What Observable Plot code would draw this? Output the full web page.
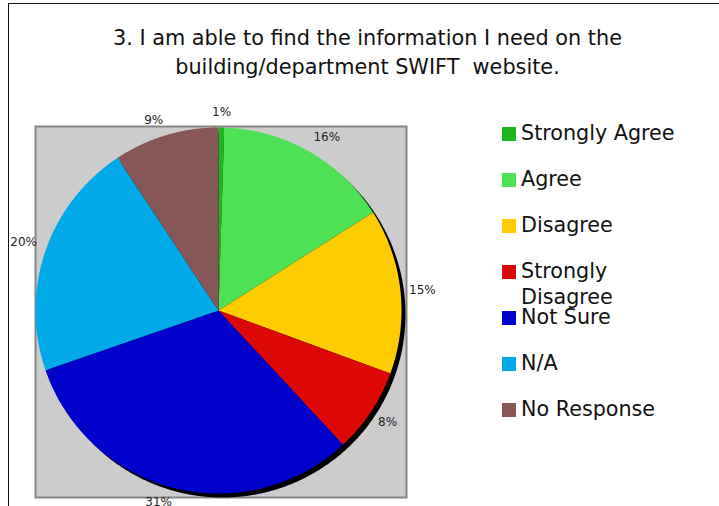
<!DOCTYPE html>
<html>
<head>
<meta charset="utf-8">
<script src="https://cdn.jsdelivr.net/npm/d3@7"></script>
<script src="https://cdn.jsdelivr.net/npm/@observablehq/plot@0.6"></script>
<style>
  html, body { margin: 0; padding: 0; background: #fff; }
  #wrap { position: relative; width: 719px; height: 506px; overflow: hidden; font-family: "DejaVu Sans", Verdana, sans-serif; }
  #chart { position: absolute; left: 0; top: 0; }
  #outer { position: absolute; left: 8px; top: 3px; width: 900px; height: 900px; border: 1.5px solid #111; box-sizing: border-box; }
  #title { position: absolute; left: 0; top: 23.5px; width: 735px; text-align: center; font-size: 20.8px; line-height: 29px; color: #111; white-space: pre; }
  .lg-sw { position: absolute; left: 502px; width: 14px; height: 14px; }
  .lg-tx { position: absolute; left: 521px; width: 165px; font-size: 20.7px; line-height: 26px; color: #111; }
</style>
</head>
<body>
<div id="wrap">
  <div id="outer"></div>
  <div id="chart"></div>
  <div id="title"></div>
  <div id="legend"></div>
</div>
<script>
// ---- data ----
const titleText = "3. I am able to find the information I need on the\nbuilding/department SWIFT  website.";
const categories = ["Strongly Agree", "Agree", "Disagree", "Strongly Disagree", "Not Sure", "N/A", "No Response"];
const shares = [0.5, 15.5, 14.6, 7.5, 31.6, 21.0, 9.3];
const percentLabels = ["1%", "16%", "15%", "8%", "31%", "20%", "9%"];
const colors = ["#1db51d", "#4ee155", "#ffcc00", "#dd0806", "#0000cc", "#00aae8", "#875656"];

// ---- geometry (unit circle, y down, angle clockwise from 12 o'clock) ----
const arcs = d3.pie().sort(null).value(d => d)(shares);
const step = Math.PI / 360;
function ring(a0, a1, withCenter) {
  const pts = withCenter ? [[0, 0]] : [];
  const n = Math.max(2, Math.ceil((a1 - a0) / step));
  for (let i = 0; i <= n; i++) {
    const a = a0 + (a1 - a0) * i / n;
    pts.push([Math.sin(a), -Math.cos(a)]);
  }
  pts.push(pts[0]);
  return pts;
}
const slices = arcs.map((a, i) => ({
  type: "Feature",
  properties: {category: categories[i]},
  geometry: {type: "Polygon", coordinates: [ring(a.startAngle, a.endAngle, true)]}
}));
const disc = {type: "Feature", properties: {}, geometry: {type: "Polygon", coordinates: [ring(0, 2 * Math.PI, false)]}};

const labelR = 1.0475;
const labels = arcs.map((a, i) => {
  const m = (a.startAngle + a.endAngle) / 2;
  const s = Math.sin(m), c = Math.cos(m);
  return {
    x: labelR * s, y: -labelR * c, text: percentLabels[i],
    ta: s > 0.2 ? "start" : s < -0.2 ? "end" : "middle",
    la: c > 0.3 ? "bottom" : c < -0.3 ? "top" : "middle"
  };
});

const lineShift = {top: 1, middle: 0, bottom: -3};
const labelMarks = [];
for (const ta of ["start", "middle", "end"]) {
  for (const la of ["top", "middle", "bottom"]) {
    labelMarks.push(Plot.text(labels, {
      filter: d => d.ta === ta && d.la === la,
      x: "x", y: "y", text: "text",
      textAnchor: ta, lineAnchor: la, dy: lineShift[la],
      fontSize: 12, fill: "#222"
    }));
  }
}

const chart = Plot.plot({
  width: 719,
  height: 506,
  marginLeft: 35,
  marginTop: 126,
  marginRight: 313,
  marginBottom: 9,
  projection: {
    type: "identity",
    domain: disc,
    clip: false,
    insetLeft: 0, insetTop: 1, insetRight: 5, insetBottom: 4
  },
  color: {domain: categories, range: colors},
  style: {background: "transparent", fontFamily: "DejaVu Sans, Verdana, sans-serif", overflow: "visible"},
  marks: [
    Plot.frame({fill: "#cccccc", stroke: "#858585", strokeWidth: 2}),
    Plot.geo([disc], {fill: "#000", dx: 4, dy: 4}),
    Plot.geo(slices, {fill: d => d.properties.category}),
    ...labelMarks
  ]
});
document.getElementById("chart").appendChild(chart);

// ---- title ----
document.getElementById("title").textContent = titleText;

// ---- legend ----
const legend = document.getElementById("legend");
const rowTop0 = 126.5, rowStep = 46.1;
categories.forEach((cat, i) => {
  const top = rowTop0 + i * rowStep;
  const sw = document.createElement("div");
  sw.className = "lg-sw";
  sw.style.top = top + "px";
  sw.style.background = colors[i];
  const tx = document.createElement("div");
  tx.className = "lg-tx";
  tx.style.top = (top - 7) + "px";
  tx.textContent = cat;
  legend.appendChild(sw);
  legend.appendChild(tx);
});
</script>
</body>
</html>
